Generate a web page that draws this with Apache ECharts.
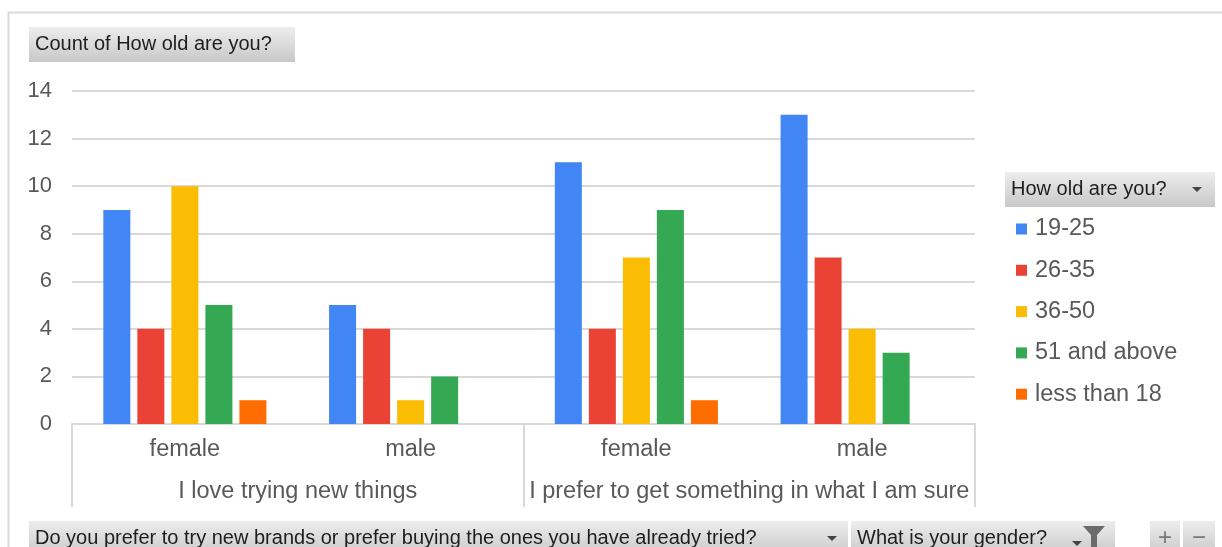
<!DOCTYPE html>
<html>
<head>
<meta charset="utf-8">
<script src="https://cdn.jsdelivr.net/npm/echarts@6/dist/echarts.min.js"></script>
<style>
  html, body { margin: 0; padding: 0; background: #fff; }
  #chart { width: 1222px; height: 547px; }
</style>
</head>
<body>
<div id="chart"></div>
<script>
// pivot chart: count of age groups by gender and brand preference
const genders = ['female', 'male', 'female', 'male'];
const preferences = ['I love trying new things', 'I prefer to get something in what I am sure'];
const ageGroups = ['19-25', '26-35', '36-50', '51 and above', 'less than 18'];
const colors = ['#4285F4', '#EA4335', '#FBBC04', '#34A853', '#FF6D01'];

const age19to25 = [9, 5, 11, 13];
const age26to35 = [4, 4, 4, 7];
const age36to50 = [10, 1, 7, 4];
const age51plus = [5, 2, 9, 3];
const ageUnder18 = [1, null, 1, null];

const yTicks = [0, 2, 4, 6, 8, 10, 12, 14];

const seriesValues = [age19to25, age26to35, age36to50, age51plus, ageUnder18];

const font = '"Liberation Sans", Arial, sans-serif';
const labelColor = '#595959';
const lineColor = '#d9d9d9';

const btnFill = {
  type: 'linear', x: 0, y: 0, x2: 0, y2: 1,
  colorStops: [{ offset: 0, color: '#ededed' }, { offset: 1, color: '#c8c8c8' }]
};

function button(x, y, w, h, label) {
  return {
    type: 'group',
    left: x, top: y,
    children: [
      { type: 'rect', shape: { x: 0, y: 0, width: w, height: h }, style: { fill: btnFill } },
      {
        type: 'text', x: 6, y: h / 2,
        style: { text: label, font: '20px ' + font, fill: '#1e1e1e', verticalAlign: 'middle' }
      }
    ]
  };
}

function arrow(cx, cy) {
  return {
    type: 'polygon',
    shape: { points: [[cx - 5, cy - 2], [cx + 5, cy - 2], [cx, cy + 3]] },
    style: { fill: '#444' }
  };
}

const chart = echarts.init(document.getElementById('chart'));

const option = {
  backgroundColor: '#fff',
  animation: false,
  color: colors,
  grid: { left: 72, right: 247, top: 91, bottom: 123, containLabel: false },
  legend: {
    orient: 'vertical',
    left: 1011,
    top: 212,
    icon: 'rect',
    itemWidth: 11,
    itemHeight: 11,
    itemGap: 17.3,
    data: ageGroups,
    textStyle: { color: labelColor, fontSize: 23.5, fontFamily: font, padding: [0, 0, 0, 3] }
  },
  xAxis: [
    {
      type: 'category',
      data: genders,
      position: 'bottom',
      axisLine: { show: true, lineStyle: { color: lineColor, width: 2 } },
      axisTick: { show: false },
      axisLabel: { color: labelColor, fontSize: 23.5, fontFamily: font, margin: 14, interval: 0 },
      splitLine: { show: false }
    },
    {
      type: 'category',
      data: preferences,
      position: 'bottom',
      axisLine: { show: false },
      axisTick: { show: true, length: 83, lineStyle: { color: lineColor, width: 2 } },
      axisLabel: { color: labelColor, fontSize: 23.5, fontFamily: font, margin: 56, interval: 0 },
      splitLine: { show: false }
    }
  ],
  yAxis: {
    type: 'value',
    min: yTicks[0],
    max: yTicks[yTicks.length - 1],
    interval: 2,
    axisLine: { show: false },
    axisTick: { show: false },
    axisLabel: { color: labelColor, fontSize: 22, fontFamily: font, margin: 20 },
    splitLine: { lineStyle: { color: lineColor, width: 2 } }
  },
  series: ageGroups.map((name, i) => ({
    name: name,
    type: 'bar',
    xAxisIndex: 0,
    data: seriesValues[i],
    barWidth: 27,
    barGap: '26%',
    itemStyle: { color: colors[i] }
  })),
  graphic: [
    {
      type: 'rect', left: 6, top: 10, z: -1,
      shape: { x: 0, y: 0, width: 1300, height: 600 },
      style: { fill: 'none', stroke: '#dadada', lineWidth: 2 }
    },
    button(29, 27, 266, 35, 'Count of How old are you?'),
    {
      type: 'group', left: 1005, top: 172,
      children: [
        { type: 'rect', shape: { x: 0, y: 0, width: 210, height: 35 }, style: { fill: btnFill } },
        {
          type: 'text', x: 6, y: 17.5,
          style: { text: 'How old are you?', font: '20px ' + font, fill: '#1e1e1e', verticalAlign: 'middle' }
        },
        arrow(192, 17)
      ]
    },
    {
      type: 'group', left: 29, top: 521,
      children: [
        { type: 'rect', shape: { x: 0, y: 0, width: 819, height: 35 }, style: { fill: btnFill } },
        {
          type: 'text', x: 6, y: 17.5,
          style: { text: 'Do you prefer to try new brands or prefer buying the ones you have already tried?', font: '20px ' + font, fill: '#1e1e1e', verticalAlign: 'middle' }
        },
        arrow(803, 17)
      ]
    },
    {
      type: 'group', left: 851, top: 521,
      children: [
        { type: 'rect', shape: { x: 0, y: 0, width: 264, height: 35 }, style: { fill: btnFill } },
        {
          type: 'text', x: 6, y: 17.5,
          style: { text: 'What is your gender?', font: '20px ' + font, fill: '#1e1e1e', verticalAlign: 'middle' }
        },
        {
          type: 'polygon',
          shape: { points: [[232, 5], [254, 5], [246, 14], [246, 26], [240, 26], [240, 14]] },
          style: { fill: '#6b6b6b' }
        },
        arrow(226, 22)
      ]
    },
    {
      type: 'group', left: 1150, top: 521,
      children: [
        { type: 'rect', shape: { x: 0, y: 0, width: 30, height: 35 }, style: { fill: btnFill } },
        { type: 'rect', shape: { x: 33, y: 0, width: 32, height: 35 }, style: { fill: btnFill } },
        {
          type: 'text', x: 15, y: 17, style: { text: '+', font: '24px ' + font, fill: '#777', align: 'center', verticalAlign: 'middle' }
        },
        {
          type: 'text', x: 49, y: 17, style: { text: '\u2212', font: '24px ' + font, fill: '#777', align: 'center', verticalAlign: 'middle' }
        }
      ]
    }
  ]
};

chart.setOption(option);
</script>
</body>
</html>
